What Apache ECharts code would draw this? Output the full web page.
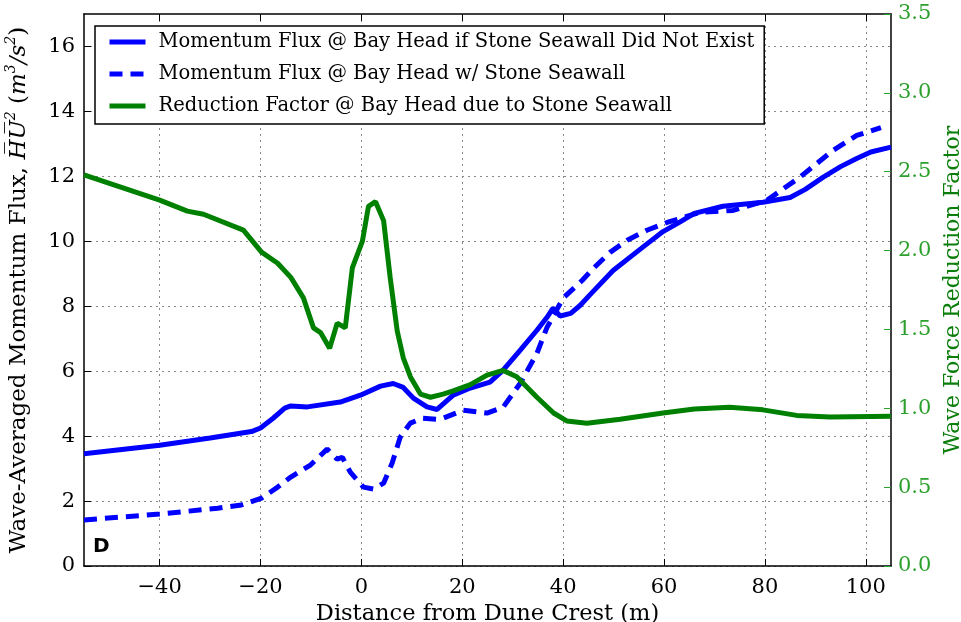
<!DOCTYPE html>
<html>
<head>
<meta charset="utf-8">
<script src="https://cdn.jsdelivr.net/npm/echarts@6/dist/echarts.min.js"></script>
<style>
  html, body { margin: 0; padding: 0; background: #fff; }
  #chart { width: 961px; height: 622px; }
</style>
</head>
<body>
<div id="chart"></div>
<script>
// distance from dune crest (m) vs values
const fluxNoWall = [
  [-55, 3.46], [-40, 3.72], [-30, 3.94], [-24, 4.09], [-21.8, 4.14], [-20, 4.25],
  [-17.5, 4.55], [-15.2, 4.86], [-14, 4.93], [-10.7, 4.9], [-4.2, 5.05], [-0.2, 5.26],
  [3.8, 5.54], [6.3, 5.62], [8.3, 5.5], [10.3, 5.17], [13, 4.9], [15, 4.82],
  [18.2, 5.26], [21.6, 5.48], [25.5, 5.66], [28.1, 6.03], [31.5, 6.65], [34.8, 7.26],
  [36.8, 7.66], [38, 7.94], [39.4, 7.7], [41.5, 7.78], [43.4, 8.03], [45.3, 8.35],
  [49.9, 9.1], [55.8, 9.82], [59.8, 10.3], [63.2, 10.6], [66, 10.86], [71.7, 11.08],
  [79.6, 11.2], [85, 11.35], [88, 11.6], [91.5, 11.97], [95, 12.3], [98.2, 12.55],
  [101, 12.75], [105, 12.9]
];
const fluxWithWall = [
  [-55, 1.42], [-40, 1.6], [-28.5, 1.78], [-23.8, 1.88], [-19.8, 2.09], [-16.6, 2.43],
  [-14, 2.74], [-10.1, 3.11], [-6.8, 3.6], [-4.8, 3.29], [-3.8, 3.35], [-2.2, 2.89],
  [0.4, 2.43], [2.4, 2.37], [4.4, 2.55], [6.1, 3.17], [7.7, 3.97], [9.7, 4.4],
  [12.1, 4.55], [15, 4.52], [16.2, 4.55], [20.2, 4.8], [24.9, 4.71], [28.1, 4.89],
  [31.5, 5.63], [34.8, 6.55], [36.8, 7.35], [40, 8.25], [43.8, 8.8], [46, 9.17],
  [49.3, 9.66], [52.7, 10.03], [56.6, 10.34], [60.6, 10.58], [67.1, 10.89],
  [73.7, 10.95], [80.4, 11.26], [83.5, 11.6], [86.9, 11.97], [93.5, 12.8],
  [98.2, 13.26], [103, 13.5]
];
const reduction = [
  [-55, 2.48], [-40, 2.32], [-34.5, 2.25], [-31.3, 2.23], [-23.4, 2.13], [-19.8, 1.99],
  [-16.6, 1.92], [-14, 1.83], [-11.5, 1.7], [-9.5, 1.51], [-8.1, 1.48], [-6.3, 1.38],
  [-4.8, 1.54], [-3.2, 1.51], [-1.8, 1.89], [0.2, 2.06], [1.4, 2.28], [2.8, 2.31],
  [4.4, 2.19], [5.7, 1.83], [7.1, 1.49], [8.3, 1.32], [9.7, 1.2], [11.7, 1.09],
  [13.7, 1.07], [16.2, 1.09], [18.2, 1.11], [21.6, 1.15], [24.9, 1.21], [28.1, 1.24],
  [30.8, 1.2], [34.8, 1.07], [38.1, 0.97], [40.7, 0.92], [44.7, 0.905], [51.3, 0.93],
  [59.8, 0.97], [66, 0.995], [73, 1.006], [79.6, 0.99], [86.3, 0.955], [92.9, 0.945],
  [105, 0.95]
];
const xTicks = [-40, -20, 0, 20, 40, 60, 80, 100];
const yTicks = [0, 2, 4, 6, 8, 10, 12, 14, 16];

const serif = "DejaVu Serif";
const fmtX = (v) => (v < 0 ? "\u2212" + Math.abs(v) : String(v));

const myChart = echarts.init(document.getElementById("chart"));

const option = {
  backgroundColor: "#fff",
  animation: false,
  grid: { left: 84, right: 70, top: 14, bottom: 56, outerBoundsMode: "none" },
  legend: {
    orient: "vertical",
    left: 95,
    top: 26,
    padding: [6, 10, 8, 12],
    itemGap: 12,
    itemWidth: 36,
    itemHeight: 19,
    backgroundColor: "#fff",
    borderColor: "#000",
    borderWidth: 1.5,
    itemStyle: { opacity: 0 },
    lineStyle: { width: 5 },
    textStyle: { fontFamily: serif, fontSize: 19.5, color: "#000", padding: [0, 0, 0, 8] },
    data: [
      "Momentum Flux @ Bay Head if Stone Seawall Did Not Exist",
      "Momentum Flux @ Bay Head w/ Stone Seawall",
      "Reduction Factor @ Bay Head due to Stone Seawall"
    ]
  },
  graphic: [
    {
      type: "text",
      left: 93,
      top: 537,
      style: { text: "D", fontFamily: "DejaVu Sans", fontWeight: "bold", fontSize: 20, fill: "#000" }
    }
  ],
  xAxis: [
    {
      type: "value",
      min: -55,
      max: 105,
      name: "Distance from Dune Crest (m)",
      nameLocation: "middle",
      nameGap: 33,
      nameTextStyle: { fontFamily: serif, fontSize: 22.5, color: "#000" },
      axisLine: { onZero: false, lineStyle: { color: "#000", width: 1.5 } },
      axisTick: { inside: true, length: 7, customValues: xTicks, lineStyle: { color: "#000" } },
      axisLabel: { customValues: xTicks, formatter: fmtX, margin: 11, fontFamily: serif, fontSize: 21, color: "#000" },
      splitLine: { show: true, lineStyle: { color: "#888", type: [2, 4], width: 1 } }
    },
    {
      type: "value",
      position: "top",
      min: -55,
      max: 105,
      axisLine: { onZero: false, lineStyle: { color: "#000", width: 1.5 } },
      axisTick: { inside: true, length: 7, customValues: xTicks, lineStyle: { color: "#000" } },
      axisLabel: { show: false },
      splitLine: { show: false }
    }
  ],
  yAxis: [
    {
      type: "value",
      min: 0,
      max: 17,
      name: "{a|Wave-Averaged Momentum Flux, }{m|H\u0305U\u0305}{s|2}{a| (}{m|m}{s|3}{m|/s}{s|2}{a|)}",
      nameLocation: "middle",
      nameRotate: 90,
      nameGap: 50,
      nameTextStyle: {
        color: "#000",
        rich: {
          a: { fontFamily: serif, fontSize: 23, color: "#000", lineHeight: 30 },
          m: { fontFamily: serif, fontStyle: "italic", fontSize: 23, color: "#000", lineHeight: 30 },
          s: { fontFamily: serif, fontStyle: "italic", fontSize: 14, color: "#000", verticalAlign: "top", lineHeight: 30 }
        }
      },
      axisLine: { show: true, onZero: false, lineStyle: { color: "#000", width: 1.5 } },
      axisTick: { inside: true, length: 7, customValues: yTicks, lineStyle: { color: "#000" } },
      axisLabel: { customValues: yTicks, margin: 9, fontFamily: serif, fontSize: 21, color: "#000" },
      splitLine: { show: true, lineStyle: { color: "#888", type: [2, 4], width: 1 } }
    },
    {
      type: "value",
      min: 0,
      max: 3.5,
      interval: 0.5,
      position: "right",
      name: "Wave Force Reduction Factor",
      nameLocation: "middle",
      nameRotate: 90,
      nameGap: 44,
      nameTextStyle: { fontFamily: serif, fontSize: 22, color: "#0a7d0a" },
      axisLine: { show: true, onZero: false, lineStyle: { color: "#000", width: 1.5 } },
      axisTick: { inside: true, length: 7, lineStyle: { color: "#2ca02c" } },
      axisLabel: { margin: 7, formatter: (v) => v.toFixed(1), fontFamily: serif, fontSize: 21, color: "#2ca02c" },
      splitLine: { show: false }
    }
  ],
  series: [
    {
      name: "Momentum Flux @ Bay Head if Stone Seawall Did Not Exist",
      type: "line",
      data: fluxNoWall,
      symbol: "none",
      lineStyle: { color: "#0000ff", width: 5 },
      itemStyle: { color: "#0000ff" }
    },
    {
      name: "Momentum Flux @ Bay Head w/ Stone Seawall",
      type: "line",
      data: fluxWithWall,
      symbol: "none",
      lineStyle: { color: "#0000ff", width: 5, type: [13, 8] },
      itemStyle: { color: "#0000ff" }
    },
    {
      name: "Reduction Factor @ Bay Head due to Stone Seawall",
      type: "line",
      yAxisIndex: 1,
      data: reduction,
      symbol: "none",
      lineStyle: { color: "#008000", width: 5 },
      itemStyle: { color: "#008000" }
    }
  ]
};

myChart.setOption(option);
</script>
</body>
</html>
